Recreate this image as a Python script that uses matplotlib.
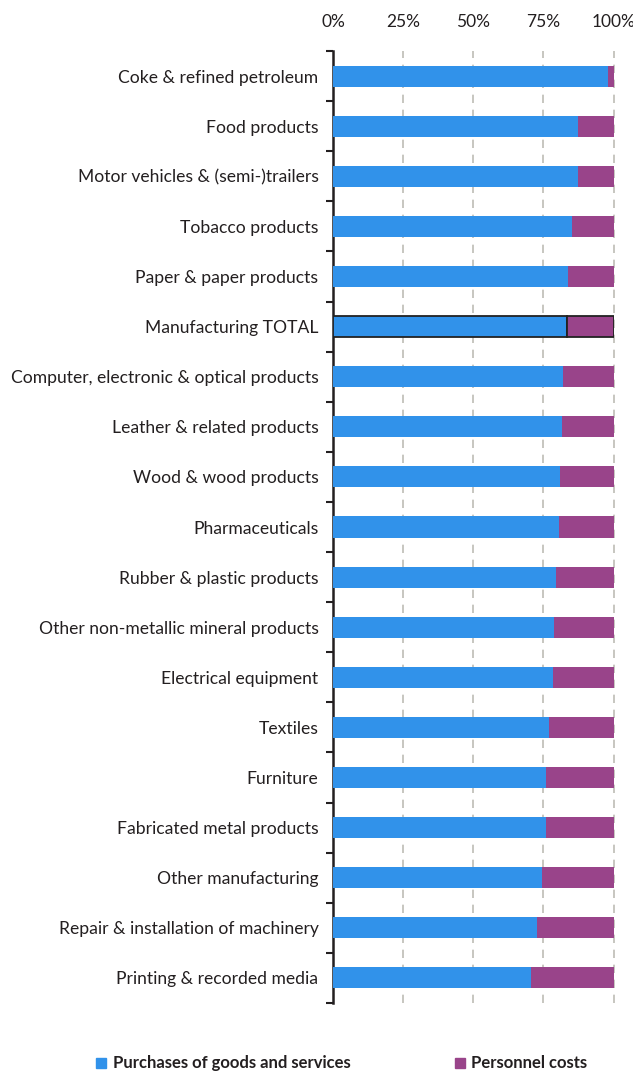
import matplotlib.pyplot as plt
from matplotlib.patches import Rectangle

plt.rcParams["font.family"] = ["Lato", "DejaVu Sans"]

industries = [
    "Coke & refined petroleum",
    "Food products",
    "Motor vehicles & (semi-)trailers",
    "Tobacco products",
    "Paper & paper products",
    "Manufacturing TOTAL",
    "Computer, electronic & optical products",
    "Leather & related products",
    "Wood & wood products",
    "Pharmaceuticals",
    "Rubber & plastic products",
    "Other non-metallic mineral products",
    "Electrical equipment",
    "Textiles",
    "Furniture",
    "Fabricated metal products",
    "Other manufacturing",
    "Repair & installation of machinery",
    "Printing & recorded media",
]

# share of purchases of goods and services in total costs (%)
purchases = [98.0, 87.3, 87.3, 85.2, 83.8, 83.4, 82.0, 81.6, 80.9, 80.6,
             79.5, 78.8, 78.4, 77.0, 75.9, 75.9, 74.5, 72.7, 70.6]
personnel = [100 - p for p in purchases]

blue = "#3192EA"
purple = "#99448A"
text_color = "#231F20"

fig = plt.figure(figsize=(6.33, 10.72), dpi=100)
ax = fig.add_axes([333 / 633, 1 - 1003 / 1072, 280.6 / 633, 952 / 1072])

y = list(range(len(industries)))
for i, name in enumerate(industries):
    total = name == "Manufacturing TOTAL"
    ax.barh(i, purchases[i], height=0.42, color=blue, zorder=3,
            edgecolor="#222222" if total else "none",
            linewidth=1.3 if total else 0)
    ax.barh(i, personnel[i], left=purchases[i], height=0.42, color=purple,
            zorder=3, edgecolor="#222222" if total else "none",
            linewidth=1.3 if total else 0)

ax.set_xlim(0, 100)
ax.set_ylim(len(industries) - 0.5, -0.5)

# dashed vertical gridlines
for x in [25, 50, 75, 100]:
    ax.axvline(x, color="#BDBCB5", linestyle=(0, (5, 4)), linewidth=1.2,
               zorder=1, clip_on=False)

ax.xaxis.tick_top()
ax.set_xticks([0, 25, 50, 75, 100])
ax.set_xticklabels(["0%", "25%", "50%", "75%", "100%"])
ax.tick_params(axis="x", length=0, pad=15, labelsize=12.5,
               labelcolor=text_color)

# category labels at bar centres, ticks on category boundaries
ax.set_yticks(y)
ax.set_yticklabels(industries)
ax.tick_params(axis="y", which="major", length=0, pad=10.5, labelsize=12.6,
               labelcolor=text_color)
ax.set_yticks([i - 0.5 for i in range(len(industries) + 1)], minor=True)
ax.tick_params(axis="y", which="minor", length=5, width=1.5,
               color=text_color, direction="out")

for side in ["top", "right", "bottom"]:
    ax.spines[side].set_visible(False)
ax.spines["left"].set_color(text_color)
ax.spines["left"].set_linewidth(1.8)

# legend
fig.patches.append(Rectangle((96 / 633, 1 - 1068 / 1072), 10 / 633, 10 / 1072,
                             transform=fig.transFigure, color=blue))
fig.text(113 / 633, 1 - 1063 / 1072, "Purchases of goods and services",
         fontsize=12, fontweight="bold", color=text_color, va="center")
fig.patches.append(Rectangle((455 / 633, 1 - 1068 / 1072), 10 / 633, 10 / 1072,
                             transform=fig.transFigure, color=purple))
fig.text(471 / 633, 1 - 1063 / 1072, "Personnel costs",
         fontsize=12, fontweight="bold", color=text_color, va="center")

fig.savefig("out.png", dpi=100)
